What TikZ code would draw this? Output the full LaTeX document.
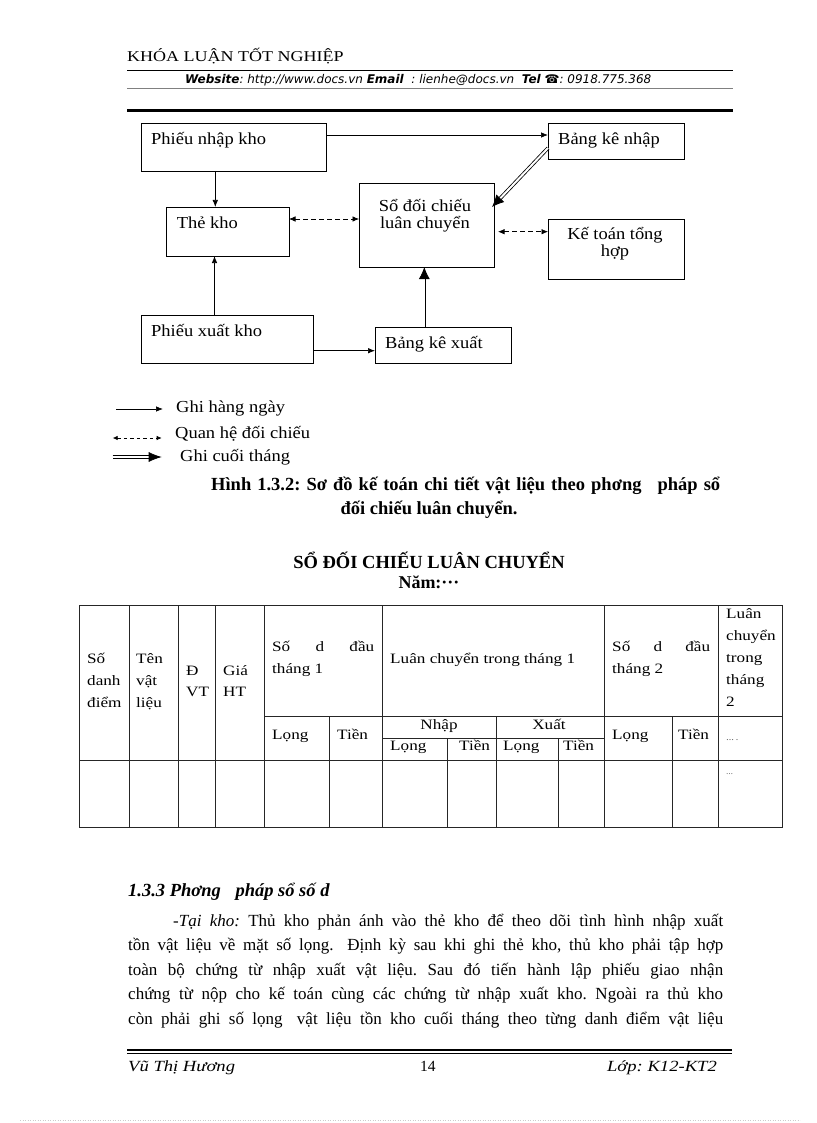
\documentclass[tikz,border=0pt]{standalone}
\usepackage{fontspec}
\setmainfont{Liberation Serif}
\newfontfamily\widefont[FakeStretch=1.2]{Liberation Serif}
\newfontfamily\diagfont[FakeStretch=1.1]{Liberation Serif}
\newfontfamily\websans{DejaVu Sans}
\usetikzlibrary{arrows.meta,calc}
\frenchspacing
\begin{document}
\begin{tikzpicture}[x=1pt,y=-1pt,
  box/.style={draw, line width=0.8pt, rectangle, inner sep=0pt, outer sep=0pt, anchor=north west},
  lbl/.style={inner sep=0pt, anchor=base west, font=\diagfont\fontsize{16.8}{18}\selectfont},
  lblc/.style={inner sep=0pt, anchor=base, font=\diagfont\fontsize{16.8}{18}\selectfont},
  arr/.style={-{Latex[length=7pt,width=5.5pt]}, line width=0.7pt},
  darr/.style={{Latex[length=6.5pt,width=5.5pt]}-{Latex[length=6.5pt,width=5.5pt]}, dash pattern=on 4.5pt off 3.5pt, line width=0.7pt},
  dbl/.style={double, double distance=2pt, line width=0.8pt, -{Latex[length=12pt,width=11pt]}},
  tt/.style={inner sep=0pt, anchor=base west, font=\widefont\fontsize{14.3}{16}\selectfont},
  ttc/.style={inner sep=0pt, anchor=base, font=\widefont\fontsize{14.3}{16}\selectfont},
  body/.style={inner sep=0pt, anchor=base west, font=\fontsize{17}{19}\selectfont},
  tab/.style={line width=0.9pt, black!85}
]
\fill[white] (0,0) rectangle (816,1123);
\path[use as bounding box] (0,0) rectangle (816,1123);

% ---------- header ----------
\node[inner sep=0pt, anchor=base west, font=\widefont\fontsize{15}{16}\selectfont] (hd) at (127,62) {KHÓA LUẬN TỐT NGHIỆP};
\draw[line width=1.5pt] (127,70.5) -- (733,70.5);
\node[inner sep=0pt, anchor=base west, font=\websans\fontsize{12}{13}\selectfont\itshape] (web) at (185,83.5)
  {\textbf{Website}: http://www.docs.vn \textbf{Email}\ \ : lienhe@docs.vn\ \ \textbf{Tel} ☎: 0918.775.368};
\draw[gray, line width=0.5pt] (127,88.5) -- (733,88.5);
\draw[line width=2.5pt] (127,110.5) -- (733,110.5);

% ---------- diagram boxes ----------
\node[box, minimum width=185pt, minimum height=48pt] (pnk) at (141,123) {};
\node[box, minimum width=123pt, minimum height=49pt] (tk)  at (166,207) {};
\node[box, minimum width=172pt, minimum height=48pt] (pxk) at (141,315) {};
\node[box, minimum width=135pt, minimum height=84pt] (so)  at (359,183) {};
\node[box, minimum width=136pt, minimum height=36pt] (bkn) at (548,123) {};
\node[box, minimum width=136pt, minimum height=60pt] (kt)  at (548,219) {};
\node[box, minimum width=136pt, minimum height=36pt] (bkx) at (375,327) {};

\node[lbl] (pnkt) at ([shift={(10pt,-22pt)}]pnk.north west) {Phiếu nhập kho};
\node[lbl] (tkt)  at ([shift={(10.7pt,-22pt)}]tk.north west) {Thẻ kho};
\node[lbl] (pxkt) at ([shift={(10pt,-21.7pt)}]pxk.north west) {Phiếu xuất kho};
\node[lbl] (bknt) at ([shift={(10pt,-22pt)}]bkn.north west) {Bảng kê nhập};
\node[lbl] (bkxt) at ([shift={(10pt,-21pt)}]bkx.north west) {Bảng kê xuất};
\node[lblc] (sot1) at ([shift={(-1.5pt,-28.7pt)}]so.north) {Sổ đối chiếu};
\node[lblc] (sot2) at ([shift={(-1.5pt,-46pt)}]so.north) {luân chuyển};
\node[lblc] (ktt1) at ([shift={(-1pt,-21pt)}]kt.north) {Kế toán tổng};
\node[lblc] (ktt2) at ([shift={(-1pt,-37.7pt)}]kt.north) {hợp};

% ---------- connectors ----------
\coordinate (a1) at ([yshift=-12pt]pnk.north east);
\draw[arr] (a1) -- (bkn.west |- a1);
\coordinate (a2) at ([xshift=-18.2pt]pnk.south);
\draw[arr] (a2) -- (a2 |- tk.north);
\coordinate (a3) at ([xshift=-12.5pt]pxk.north);
\draw[arr] (a3) -- (a3 |- tk.south);
\coordinate (a4) at ([yshift=-11.7pt]pxk.east);
\draw[arr] (a4) -- (bkx.west |- a4);
\coordinate (a5) at ([yshift=12.5pt]tk.east);
\draw[darr] (a5) -- (so.west |- a5);
\coordinate (a6) at ([shift={(4pt,-6.7pt)}]so.east);
\draw[darr] (a6) -- (kt.west |- a6);
\coordinate (a7) at ([xshift=-18.7pt]bkx.north);
\draw[dbl] (a7) -- (a7 |- so.south);
\coordinate (a8) at ([yshift=-7pt]bkn.west);
\coordinate (a9) at ([shift={(-2pt,18pt)}]so.east);
\draw[dbl] (a8) -- (a9);

% ---------- legend ----------
\coordinate (l1a) at (116,409);   \coordinate (l1b) at (163,409);
\coordinate (l2a) at (112.7,438); \coordinate (l2b) at (161.7,438);
\coordinate (l3a) at (112.7,457); \coordinate (l3b) at (161.7,457);
\draw[arr] (l1a) -- (l1b);
\draw[{Latex[length=5pt,width=4.5pt]}-{Latex[length=5pt,width=4.5pt]}, dash pattern=on 3.5pt off 3pt, line width=0.7pt] (l2a) -- (l2b);
\draw[double, double distance=2.5pt, line width=0.7pt, -{Latex[length=13pt,width=10pt]}] (l3a) -- (l3b);
\node[lbl] (lg1) at (176,412.3) {Ghi hàng ngày};
\node[lbl] (lg2) at (175,438.3) {Quan hệ đối chiếu};
\node[lbl] (lg3) at (180,461.7) {Ghi cuối tháng};

% ---------- caption ----------
\node[inner sep=0pt, anchor=base west, font=\bfseries\fontsize{18.5}{20}\selectfont] (cap1) at (211,490)
  {\makebox[509pt][s]{Hình 1.3.2: Sơ đồ kế toán chi tiết vật liệu theo phơng\hspace{10pt} pháp sổ}};
\node[inner sep=0pt, anchor=base, font=\bfseries\fontsize{18.5}{20}\selectfont] (cap2) at (429,514) {đối chiếu luân chuyển.};
\node[inner sep=0pt, anchor=base, font=\bfseries\fontsize{18.5}{20}\selectfont] (title) at (429,568) {SỔ ĐỐI CHIẾU LUÂN CHUYỂN};
\node[inner sep=0pt, anchor=base, font=\bfseries\fontsize{18}{19}\selectfont] (year) at (429,588) {Năm:···};

% ---------- table ----------
\draw[tab] (79,605) rectangle (782,827);
\foreach \x in {129,178,215,264,382,604,718} \draw[tab] (\x,605) -- (\x,827);
\foreach \x in {329,496,672} \draw[tab] (\x,716) -- (\x,827);
\foreach \x in {447,558} \draw[tab] (\x,738) -- (\x,827);
\draw[tab] (264,716) -- (782,716);
\draw[tab] (382,738) -- (604,738);
\draw[tab] (79,760) -- (782,760);

\node[tt] (c1a) at (87,663.3) {Số};
\node[tt] (c1b) at (87,685.5) {danh};
\node[tt] (c1c) at (87,707.5) {điểm};
\node[tt] (c2a) at (136,663.3) {Tên};
\node[tt] (c2b) at (136,685.5) {vật};
\node[tt] (c2c) at (136,707.5) {liệu};
\node[tt] (c3a) at (186,675) {Đ};
\node[tt] (c3b) at (186,696) {VT};
\node[tt] (c4a) at (223,675) {Giá};
\node[tt] (c4b) at (223,696) {HT};
\node[tt] (c5a) at (272,651.7) {\makebox[102pt][s]{Số d đầu}};
\node[tt] (c5b) at (272,673.3) {tháng 1};
\node[tt] (c6a) at (390,663.3) {Luân chuyển trong tháng 1};
\node[tt] (c7a) at (612,651.7) {\makebox[98pt][s]{Số d đầu}};
\node[tt] (c7b) at (612,673.3) {tháng 2};
\node[tt] (c8a) at (726,618.3) {Luân};
\node[tt] (c8b) at (726,640.5) {chuyển};
\node[tt] (c8c) at (726,662.5) {trong};
\node[tt] (c8d) at (726,684) {tháng};
\node[tt] (c8e) at (726,706) {2};
\node[tt] (s1) at (272,739.3) {Lọng};
\node[tt] (s2) at (337,739.3) {Tiền};
\node[ttc] (s3) at (439,729.3) {Nhập};
\node[ttc] (s4) at (549,729.3) {Xuất};
\node[tt] (s5) at (390,750.5) {Lọng};
\node[tt] (s6) at (459,750.5) {Tiền};
\node[tt] (s7) at (503,750.5) {Lọng};
\node[tt] (s8) at (563,750.5) {Tiền};
\node[tt] (s9) at (612,739.3) {Lọng};
\node[tt] (s10) at (678,739.3) {Tiền};
\node[inner sep=0pt, anchor=base west, font=\fontsize{8}{9}\selectfont] (s11) at (726,740) {\dots\ .};
\node[inner sep=0pt, anchor=base west, font=\fontsize{7}{8}\selectfont] (d1) at (726,774) {\dots};

% ---------- text ----------
\node[inner sep=0pt, anchor=base west, font=\bfseries\itshape\fontsize{18.5}{20}\selectfont] (sec) at (128,896)
  {1.3.3 Phơng\hspace{10pt} pháp sổ số d};
\node[body] (b1) at (173,926) {\makebox[550pt][s]{\textit{-Tại kho:} Thủ kho phản ánh vào thẻ kho để theo dõi tình hình nhập xuất}};
\node[body] (b2) at (128,950.5) {\makebox[595pt][s]{tồn vật liệu về mặt số lọng.\hspace{6pt} Định kỳ sau khi ghi thẻ kho, thủ kho phải tập hợp}};
\node[body] (b3) at (128,975) {\makebox[595pt][s]{toàn bộ chứng từ nhập xuất vật liệu. Sau đó tiến hành lập phiếu giao nhận}};
\node[body] (b4) at (128,999.5) {\makebox[595pt][s]{chứng từ nộp cho kế toán cùng các chứng từ nhập xuất kho. Ngoài ra thủ kho}};
\node[body] (b5) at (128,1024) {\makebox[595pt][s]{còn phải ghi số lọng\hspace{6pt} vật liệu tồn kho cuối tháng theo từng danh điểm vật liệu}};

% ---------- footer ----------
\draw[line width=1.2pt] (127,1050) -- (732,1050);
\draw[line width=0.6pt] (127,1053.5) -- (732,1053.5);
\node[inner sep=0pt, anchor=base west, font=\widefont\itshape\fontsize{15.5}{17}\selectfont] (f1) at (128,1071) {Vũ Thị Hương};
\node[inner sep=0pt, anchor=base west, font=\fontsize{15.5}{17}\selectfont] (f2) at (420,1071) {14};
\node[inner sep=0pt, anchor=base east, font=\widefont\itshape\fontsize{15.5}{17}\selectfont] (f3) at (717,1071) {Lớp: K12-KT2};
\draw[gray!40, line width=0.5pt, dotted] (20,1120) -- (800,1120);
\end{tikzpicture}
\end{document}
